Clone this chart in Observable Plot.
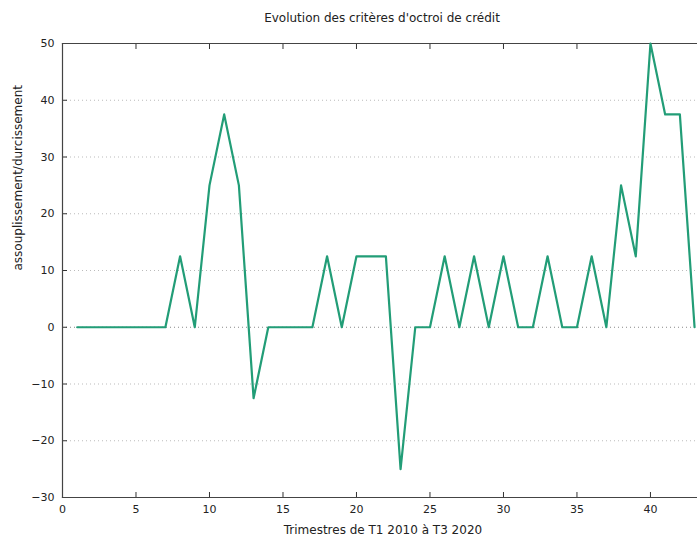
<!DOCTYPE html>
<html><head><meta charset="utf-8">
<script src="https://cdn.jsdelivr.net/npm/d3@7"></script>
<script src="https://cdn.jsdelivr.net/npm/@observablehq/plot@0.6"></script>
<style>
body{margin:0;background:#fff;}
#chart{position:relative;width:697px;height:538px;font-family:"DejaVu Sans",Verdana,sans-serif;}
#title{position:absolute;top:11px;left:62px;width:640px;text-align:center;font-size:12px;color:#222;}
</style>
</head><body>
<div id="chart"><div id="title">Evolution des critères d'octroi de crédit</div></div>
<script>
const trimestres = d3.range(1, 44);
const valeurs = [0,0,0,0,0,0,0,12.5,0,25,37.5,25,-12.5,0,0,0,0,12.5,0,12.5,12.5,12.5,-25,0,0,12.5,0,12.5,0,12.5,0,0,12.5,0,0,12.5,0,25,12.5,50,37.5,37.5,0];
const xTicks = [0,5,10,15,20,25,30,35,40];
const yTicks = [-30,-20,-10,0,10,20,30,40,50];
const data = trimestres.map((t,i)=>({t, v: valeurs[i]}));

const chart = Plot.plot({
  width: 697, height: 538,
  marginLeft: 62, marginRight: 0, marginTop: 43, marginBottom: 41,
  style: {fontFamily: '"DejaVu Sans",Verdana,sans-serif', fontSize: "11px", color: "#222", background: "#fff"},
  x: {domain: [0, 43.2]},
  y: {domain: [-30, 50]},
  marks: [
    Plot.gridY(yTicks.filter(d=>d>-30 && d<50 && d!==0), {stroke: "#bbb", strokeOpacity: 1, strokeDasharray: "1,3"}),
    Plot.ruleY([0], {stroke: "#888", strokeDasharray: "1,3"}),
    Plot.axisY({ticks: yTicks, tickSize: -5, tickPadding: 13, stroke: "#333", label: null}),
    Plot.axisX({ticks: xTicks, tickSize: -5, tickPadding: 13, stroke: "#333", label: null}),
    Plot.axisX({anchor: "top", ticks: xTicks, tickSize: -5, tickFormat: () => "", stroke: "#333", label: null}),
    Plot.frame({anchor: "left", stroke: "#444", strokeWidth: 1.2}),
    Plot.frame({anchor: "top", stroke: "#444", strokeWidth: 1.2}),
    Plot.frame({anchor: "bottom", stroke: "#444", strokeWidth: 1.2}),
    Plot.line(data, {x: "t", y: "v", stroke: "#229d77", strokeWidth: 2.2}),
    Plot.text(["Trimestres de T1 2010 à T3 2020"], {x: 21.8, frameAnchor: "bottom", dy: 36, fontSize: 12, fill: "#222"}),
    Plot.text(["assouplissement/durcissement"], {frameAnchor: "left", dx: -44, rotate: -90, fontSize: 12, fill: "#222"})
  ]
});
document.getElementById("chart").appendChild(chart);
</script>
</body></html>
